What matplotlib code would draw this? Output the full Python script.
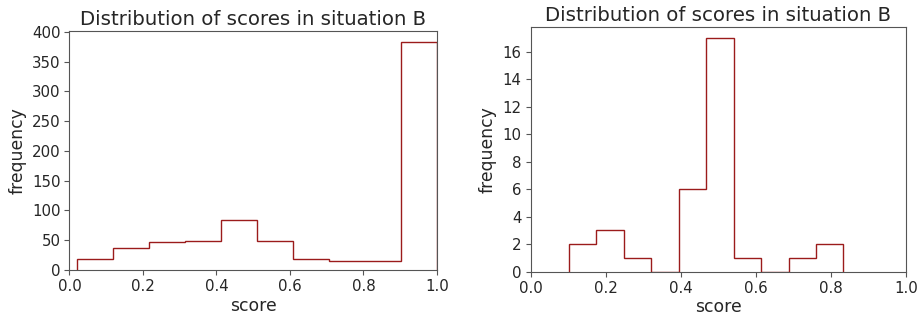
import numpy as np
import matplotlib
matplotlib.use("Agg")
import matplotlib.pyplot as plt

# Left histogram (bin counts)
left_counts = [18, 37, 46, 48, 83, 48, 18, 15, 15, 383]
left_edges = np.linspace(0.02, 1.0, 11)

# Right histogram (bin counts)
right_counts = [2, 3, 1, 0, 6, 17, 1, 0, 1, 2]
right_edges = np.linspace(0.102, 0.833, 11)

title = "Distribution of scores in situation B"
xlabel = "score"
ylabel = "frequency"
xticks = [0.0, 0.2, 0.4, 0.6, 0.8, 1.0]
left_yticks = [0, 50, 100, 150, 200, 250, 300, 350, 400]
right_yticks = [0, 2, 4, 6, 8, 10, 12, 14, 16]

line_color = "#9b1b1b"
spine_color = "#555555"
text_color = "#262626"

fig = plt.figure(figsize=(9.19, 3.2), dpi=100)
ax1 = fig.add_axes([0.0755, 0.157, 0.400, 0.747])
ax2 = fig.add_axes([0.5775, 0.151, 0.4085, 0.766])

for ax, counts, edges, yt in [(ax1, left_counts, left_edges, left_yticks),
                              (ax2, right_counts, right_edges, right_yticks)]:
    centers = (edges[:-1] + edges[1:]) / 2
    ax.hist(centers, bins=edges, weights=counts, histtype="step",
            color=line_color, linewidth=1.0)
    ax.set_xlim(0, 1)
    ax.set_xticks(xticks)
    ax.set_yticks(yt)
    ax.set_title(title, fontsize=14.2, color=text_color, pad=4)
    ax.set_xlabel(xlabel, fontsize=12.4, color=text_color, labelpad=2)
    ax.set_ylabel(ylabel, fontsize=12.4, color=text_color, labelpad=4)
    ax.tick_params(labelsize=10.8, colors=text_color, length=3.5, width=0.8, pad=3)
    ax.tick_params(axis="both", color=spine_color)
    for s in ax.spines.values():
        s.set_color(spine_color)
        s.set_linewidth(0.8)
        s.set_zorder(3)

fig.savefig("out.png", dpi=100)
